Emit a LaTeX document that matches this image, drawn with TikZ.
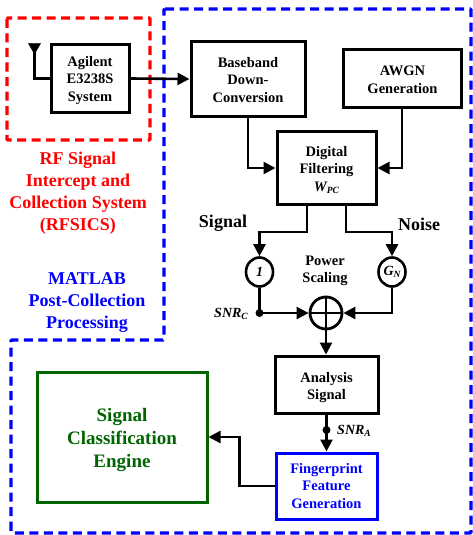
\documentclass[tikz,border=0pt]{standalone}
\usepackage{fontspec}
\setmainfont{Liberation Serif}
\usetikzlibrary{arrows.meta,positioning,shapes.geometric,calc}
\definecolor{rfred}{RGB}{255,0,0}
\definecolor{matblue}{RGB}{0,0,255}
\definecolor{engreen}{RGB}{0,100,0}
\newcommand{\bsize}{\fontsize{14.5}{17.5}\selectfont\bfseries}
\newcommand{\lowsub}[1]{\raisebox{-2.5pt}{\fontsize{9.5}{10}\selectfont #1}}
\newcommand{\tophgt}[1]{\rule{0pt}{#1pt}}
\begin{document}
\begin{tikzpicture}[x=1pt,y=-1pt,
  box/.style={draw,line width=3pt,align=center,font=\bsize,inner sep=0pt,minimum width=#1},
  circ/.style={draw,line width=2.6pt,ellipse,minimum width=27pt,minimum height=29pt,inner sep=0pt,font=\fontsize{14}{15}\selectfont\bfseries\itshape},
  region/.style={line width=3.2pt,dash pattern=on 9pt off 5.5pt},
  arr/.style={-{Triangle[length=12pt,width=12pt]},line width=2.6pt},
  lbl/.style={align=center,font=\fontsize{18}{22}\selectfont\bfseries},
  note/.style={font=\fontsize{18}{20}\selectfont\bfseries},
  snr/.style={font=\fontsize{14}{16}\selectfont\bfseries\itshape},
  dot/.style={circle,fill,inner sep=0pt,minimum size=8pt}]
  \useasboundingbox (0,0) rectangle (472,535);
  % dashed regions
  \draw[region,rfred,rounded corners=1pt] (7,18) rectangle (150,140);
  \draw[region,matblue,rounded corners=1pt] (164,9) -- (471,9) -- (471,533) -- (11,533) -- (11,340) -- (164,340) -- cycle;
  % blocks
  \node[box=78pt,minimum height=67pt] (AG) at (90,78.5) {\tophgt{14}Agilent\\E3238S\\System};
  \node[box=114pt,minimum height=74pt] (BB) at (248,79) {\tophgt{12}Baseband\\Down-\\Conversion};
  \node[box=118pt,minimum height=57pt] (AW) at (402.5,78.5) {\tophgt{12}AWGN\\Generation};
  \node[box=99pt,minimum height=73pt] (DF) at (326.5,168) {\tophgt{14}Digital\\Filtering\\\textit{W\lowsub{PC}}};
  \node[box=103pt,minimum height=57pt] (AS) at (326.5,384.5) {\tophgt{16}Analysis\\Signal};
  \node[box=101pt,minimum height=66pt,matblue] (FP) at (326.5,486) {Fingerprint\\Feature\\Generation};
  \node[box=170pt,minimum height=130pt,engreen,font=\fontsize{19}{23}\selectfont\bfseries] (SC) at (122,437) {\tophgt{19}Signal\\Classification\\Engine};
  \node[circ] (S1) at (259.5,272) {1};
  \node[circ] (GN) at (392,272) {G\lowsub{N}};
  \node[draw,circle,line width=2.8pt,minimum size=32pt,inner sep=0pt] (SUM) at (326,313) {};
  \draw[line width=2pt] (SUM.north) -- (SUM.south) (SUM.west) -- (SUM.east);
  \node[draw,fill,regular polygon,regular polygon sides=3,shape border rotate=180,inner sep=0pt,minimum size=14pt] (ANT) at (34.5,47) {};
  \node[dot] (DC) at (259.5,313) {};
  \node[dot] (DA) at (326.5,430) {};
  % connectors
  \draw[line width=2.6pt] (ANT.center) |- (AG.west);
  \draw[arr] (AG.east) -- (BB.west);
  \draw[arr] (BB.south) |- (DF.west);
  \draw[arr] ([xshift=-0.5pt]AW.south) |- (DF.east);
  \draw[arr] ([xshift=-19.5pt]DF.south) -- ++(0,26) -| (S1.north);
  \draw[arr] ([xshift=19.5pt]DF.south) -- ++(0,26) -| (GN.north);
  \draw[line width=2.6pt] (S1.south) -- (DC.center);
  \draw[arr] (DC.center) -- (SUM.west);
  \draw[arr] (GN.south) |- (SUM.east);
  \draw[arr] (SUM.south) -- ([xshift=-0.5pt]AS.north);
  \draw[arr] (AS.south) -- (FP.north);
  \draw[arr] (FP.west) -- ++(-35,0) |- (SC.east);
  % labels
  \node[lbl,rfred] (RF) at (78,193) {RF Signal\\Intercept and\\Collection System\\(RFSICS)};
  \node[lbl,matblue] (ML) at (87,303) {MATLAB\\Post-Collection\\Processing};
  \node[note] (SG) at (223,223) {Signal};
  \node[note] (NS) at (419,224) {Noise};
  \node[align=center,font=\bsize] (PS) at (325,271) {Power\\Scaling};
  \node[snr] (SC1) at (231,314) {SNR\lowsub{C}};
  \node[snr] (SC2) at (354,431) {SNR\lowsub{A}};
\end{tikzpicture}
\end{document}
